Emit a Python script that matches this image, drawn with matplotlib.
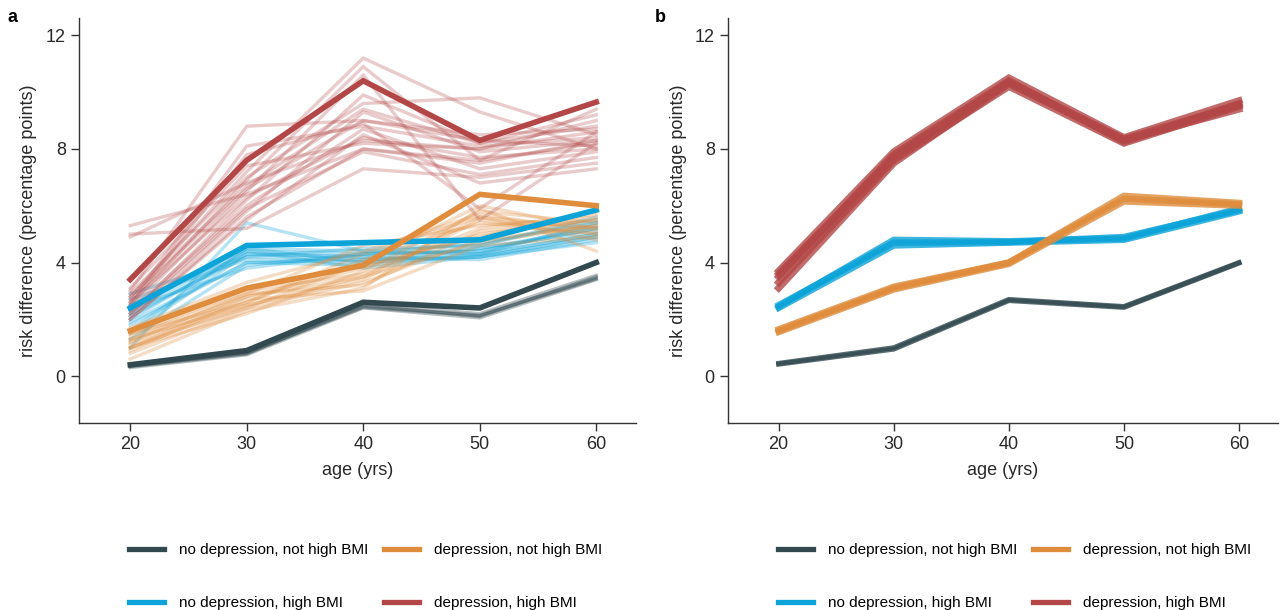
import numpy as np
import matplotlib.pyplot as plt
from matplotlib.lines import Line2D

plt.rcParams['font.family'] = ['Liberation Sans', 'DejaVu Sans']

ages = [20, 30, 40, 50, 60]
labels = ["no depression, not high BMI", "no depression, high BMI",
          "depression, not high BMI", "depression, high BMI"]
colors = ["#31494f", "#0ba3d8", "#df8c3c", "#b34646"]

# panel a: main estimates
a_main = [
    [0.40, 0.90, 2.60, 2.40, 4.00],
    [2.40, 4.60, 4.70, 4.80, 5.85],
    [1.60, 3.10, 3.90, 6.40, 6.00],
    [3.40, 7.60, 10.40, 8.30, 9.65],
]

# panel a: replicate estimates
a_dark_reps = [
    [0.35, 0.80, 2.45, 2.15, 3.45],
    [0.30, 0.75, 2.40, 2.05, 3.40],
    [0.38, 0.85, 2.55, 2.20, 3.55],
    [0.33, 0.78, 2.50, 2.10, 3.50],
    [0.36, 0.82, 2.42, 2.12, 3.42],
]
a_blue_reps = [
    [1.0, 5.4, 4.4, 4.3, 5.0],
    [2.0, 4.4, 4.3, 4.4, 5.2],
    [2.2, 4.2, 4.1, 4.2, 4.9],
    [1.8, 4.0, 3.9, 4.3, 5.4],
    [2.5, 4.5, 4.4, 4.6, 5.5],
    [1.5, 4.3, 4.2, 4.1, 4.8],
    [2.7, 4.1, 4.0, 4.5, 5.1],
    [1.3, 3.9, 4.3, 4.4, 5.3],
    [2.3, 4.4, 3.8, 4.2, 4.7],
    [2.9, 4.2, 4.5, 4.6, 5.6],
    [1.9, 4.0, 4.1, 4.3, 5.0],
    [2.1, 4.3, 4.2, 4.5, 5.2],
    [1.6, 4.5, 4.0, 4.2, 4.9],
    [2.4, 3.8, 4.3, 4.7, 5.4],
]
a_orange_reps = [
    [1.0, 2.5, 3.5, 5.6, 5.2],
    [1.3, 2.8, 3.8, 5.0, 5.5],
    [0.6, 2.3, 3.1, 5.9, 4.4],
    [1.2, 2.6, 4.1, 5.4, 5.0],
    [1.5, 3.0, 3.6, 5.2, 5.7],
    [1.1, 2.4, 3.3, 4.8, 5.3],
    [1.7, 3.3, 4.4, 5.7, 5.1],
    [0.9, 2.7, 3.0, 4.6, 4.9],
    [1.4, 2.9, 4.6, 5.3, 5.6],
    [1.0, 2.2, 3.7, 5.8, 5.4],
    [1.6, 3.1, 3.9, 4.9, 5.8],
    [1.3, 2.5, 3.4, 5.5, 5.0],
    [0.8, 2.4, 4.0, 6.0, 5.2],
    [1.2, 2.9, 3.2, 5.1, 5.5],
    [1.5, 2.6, 4.3, 5.6, 4.8],
    [1.0, 2.8, 3.5, 4.7, 5.3],
]
a_red_reps = [
    [5.3, 6.4, 8.0, 7.6, 8.2],
    [5.0, 5.2, 7.3, 7.0, 7.5],
    [4.9, 6.8, 8.3, 8.0, 8.6],
    [3.0, 8.8, 9.0, 8.5, 8.7],
    [2.6, 8.1, 8.8, 8.1, 8.4],
    [2.8, 7.2, 11.2, 9.3, 8.0],
    [2.5, 6.9, 10.9, 7.6, 9.4],
    [2.4, 6.5, 10.6, 5.5, 8.2],
    [2.2, 6.2, 9.9, 8.2, 8.8],
    [2.9, 7.0, 9.6, 9.8, 8.5],
    [2.1, 5.8, 9.3, 7.9, 8.3],
    [2.7, 6.6, 9.0, 8.3, 8.1],
    [2.3, 6.0, 8.7, 7.3, 7.9],
    [2.0, 5.5, 8.5, 6.8, 7.3],
    [2.6, 6.3, 8.4, 7.7, 8.0],
    [3.1, 7.4, 8.2, 8.0, 9.0],
    [2.2, 5.9, 7.9, 7.1, 7.7],
    [2.5, 7.8, 8.9, 5.9, 8.6],
    [2.8, 6.7, 9.4, 8.2, 9.2],
    [2.0, 5.6, 8.0, 7.5, 8.3],
]

# panel b: estimates (tight bands)
b_dark_reps = [
    [0.45, 1.00, 2.70, 2.45, 4.00],
    [0.42, 0.95, 2.66, 2.42, 3.98],
]
b_blue_reps = [
    [2.45, 4.80, 4.75, 4.85, 5.90],
    [2.40, 4.60, 4.70, 4.80, 5.80],
    [2.50, 4.70, 4.72, 4.90, 5.85],
]
b_orange_reps = [
    [1.60, 3.10, 4.00, 6.35, 6.10],
    [1.55, 3.05, 3.95, 6.15, 6.00],
    [1.65, 3.15, 4.00, 6.25, 6.05],
]
b_red_reps = [
    [3.70, 7.90, 10.50, 8.40, 9.70],
    [3.30, 7.60, 10.20, 8.20, 9.50],
    [3.10, 7.50, 10.30, 8.30, 9.40],
    [3.50, 7.80, 10.40, 8.25, 9.60],
    [3.60, 7.70, 10.35, 8.35, 9.55],
]

fig = plt.figure(figsize=(12.82, 6.10), dpi=100)
ax_a = fig.add_axes([0.0616, 0.3066, 0.4344, 0.6634])
ax_b = fig.add_axes([0.5679, 0.3066, 0.4291, 0.6634])

axis_col = "#333333"


def style_axis(ax, letter, letter_x):
    ax.set_xlim(15.6, 63.4)
    ax.set_ylim(-1.65, 12.6)
    ax.set_xticks(ages)
    ax.set_yticks([0, 4, 8, 12])
    for s in ["top", "right"]:
        ax.spines[s].set_visible(False)
    for s in ["left", "bottom"]:
        ax.spines[s].set_color(axis_col)
        ax.spines[s].set_linewidth(1.0)
    ax.tick_params(colors=axis_col, labelcolor="#2a2a2a", labelsize=13,
                   length=6, width=1.0)
    ax.set_xlabel("age (yrs)", fontsize=13, color="#2a2a2a", labelpad=6)
    ax.set_ylabel("risk difference (percentage points)", fontsize=13,
                  color="#2a2a2a", labelpad=6)
    fig.text(letter_x, 0.985, letter, fontsize=13, fontweight="bold",
             va="top", ha="left")


# panel a
a_reps = [a_dark_reps, a_blue_reps, a_orange_reps, a_red_reps]
rep_alpha = [0.35, 0.3, 0.3, 0.28]
for reps, col, al in zip(a_reps, colors, rep_alpha):
    for r in reps:
        ax_a.plot(ages, r, color=col, lw=2.4, alpha=al, solid_joinstyle="miter")
for vals, col in zip(a_main, colors):
    ax_a.plot(ages, vals, color=col, lw=4.0, solid_joinstyle="miter")
style_axis(ax_a, "a", 0.006)

# panel b
b_reps = [b_dark_reps, b_blue_reps, b_orange_reps, b_red_reps]
b_lw = [3.6, 4.6, 4.6, 5.0]
for reps, col, lw in zip(b_reps, colors, b_lw):
    for r in reps:
        ax_b.plot(ages, r, color=col, lw=lw, alpha=0.8, solid_joinstyle="miter")
style_axis(ax_b, "b", 0.511)

# legends
handles = [Line2D([0], [0], color=c, lw=3.8) for c in colors]
for ax, x0 in [(ax_a, 0.1006), (ax_b, 0.6066)]:
    fig.legend(handles, labels, loc="center left",
               bbox_to_anchor=(x0, 0.0548), bbox_transform=fig.transFigure,
               ncol=2, frameon=False, fontsize=11, handlelength=2.3,
               handletextpad=1.0, columnspacing=1.0, labelspacing=2.55,
               borderaxespad=0, borderpad=0)

fig.savefig("out.png", dpi=100)
